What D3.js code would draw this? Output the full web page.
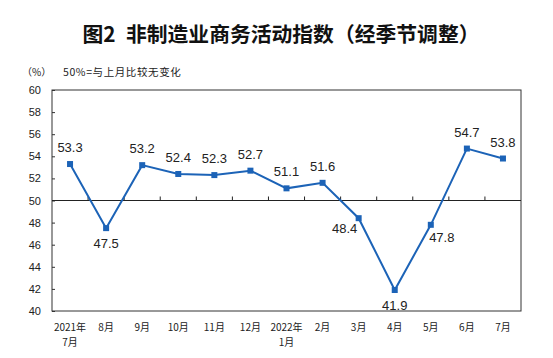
<!DOCTYPE html>
<html><head><meta charset="utf-8">
<script src="https://cdn.jsdelivr.net/npm/d3@7"></script>
<style>body{margin:0;background:#fff}svg{display:block}</style>
</head><body>
<script>
const categories = [["2021年","7月"],["8月"],["9月"],["10月"],["11月"],["12月"],["2022年","1月"],["2月"],["3月"],["4月"],["5月"],["6月"],["7月"]];
const values = [53.3,47.5,53.2,52.4,52.3,52.7,51.1,51.6,48.4,41.9,47.8,54.7,53.8];
const yTicks = [40,42,44,46,48,50,52,54,56,58,60];
// label placement relative to point
const labelPos = ["above","below","above","above","above","above","above","above","leftBelow","below","rightBelow","above","above"];

const W=553,H=358;
const svg=d3.select("body").append("svg").attr("width",W).attr("height",H);
const m={l:52,r:521,t:90,b:311};
const x=d3.scaleBand().domain(d3.range(values.length)).range([m.l,m.r]);
const y=d3.scaleLinear().domain([40,60]).range([m.b,m.t]);
const cx=i=>x(i)+x.bandwidth()/2;
const cjk='"Noto Sans CJK SC", sans-serif';

svg.append("text").attr("x",281).attr("y",42).attr("text-anchor","middle")
  .attr("font-family",cjk).attr("font-weight","bold").attr("font-size",20.8).attr("fill","#111")
  .text("图2\u2002非制造业商务活动指数（经季节调整）");
svg.append("text").attr("x",22).attr("y",76).attr("font-family",cjk).attr("font-size",10).attr("fill","#222").text("（%）");
svg.append("text").attr("x",63).attr("y",76).attr("font-family",cjk).attr("font-size",10.5).attr("letter-spacing",0.6).attr("fill","#222").text("50%=与上月比较无变化");

// frame
svg.append("rect").attr("x",m.l).attr("y",m.t).attr("width",m.r-m.l).attr("height",m.b-m.t)
  .attr("fill","none").attr("stroke","#333").attr("stroke-width",1);

// y axis
const ya=svg.append("g").attr("transform",`translate(${m.l},0)`)
  .call(d3.axisLeft(y).tickValues(yTicks).tickSize(-3).tickPadding(11));
ya.select(".domain").remove();
ya.selectAll("line").attr("stroke","#333");
ya.selectAll("text").attr("font-family","Arial, 'Liberation Sans', sans-serif").attr("font-size",11).attr("fill","#222");

// x axis line at 50 with upward ticks at band boundaries
const y50=y(50);
svg.append("line").attr("x1",m.l).attr("x2",m.r).attr("y1",y50).attr("y2",y50).attr("stroke","#222").attr("stroke-width",1);
svg.append("g").selectAll("line").data(d3.range(1,values.length)).join("line")
  .attr("x1",i=>x(i)).attr("x2",i=>x(i)).attr("y1",y50).attr("y2",y50-4).attr("stroke","#222");

// x labels
const xl=svg.append("g").selectAll("text").data(categories).join("text")
  .attr("x",(d,i)=>cx(i)).attr("y",331).attr("text-anchor","middle")
  .attr("font-family",cjk).attr("font-size",10).attr("fill","#222");
xl.each(function(d){
  const t=d3.select(this);
  d.forEach((s,k)=>t.append("tspan").attr("x",t.attr("x")).attr("dy",k?15:0).text(s));
});

// line
const color="#1C63B7";
svg.append("path").datum(values).attr("fill","none").attr("stroke",color).attr("stroke-width",2)
  .attr("d",d3.line().x((d,i)=>cx(i)).y(d=>y(d)));
svg.append("g").selectAll("rect").data(values).join("rect")
  .attr("x",(d,i)=>cx(i)-3).attr("y",d=>y(d)-3).attr("width",6).attr("height",6).attr("fill",color);

// value labels
const off={above:[0,-12],below:[0,20],leftBelow:[-14,15],rightBelow:[11,17]};
svg.append("g").selectAll("text").data(values).join("text")
  .attr("x",(d,i)=>cx(i)+off[labelPos[i]][0]).attr("y",(d,i)=>y(d)+off[labelPos[i]][1])
  .attr("text-anchor","middle").attr("font-family","Arial, 'Liberation Sans', sans-serif")
  .attr("font-size",13).attr("fill","#222").text(d=>d.toFixed(1));
</script>
</body></html>
